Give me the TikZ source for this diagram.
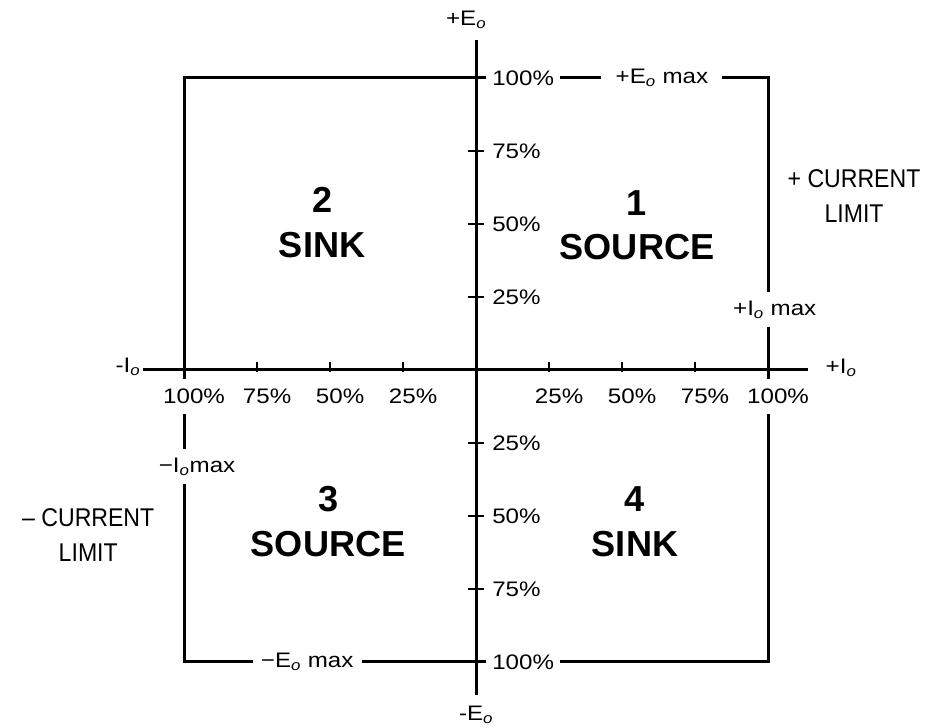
\documentclass[tikz,border=0pt]{standalone}
\usepackage{fontspec}
\setmainfont{Liberation Sans}
\newfontfamily\pctfont{Liberation Sans}[FakeStretch=1.15]
\newfontfamily\narrowfont{Liberation Sans}[FakeStretch=0.9]
\usepackage{tikz}
\newcommand{\osub}{\textsubscript{\itshape o}}
\newcommand{\mns}{\char"2212\relax}

\begin{document}
\begin{tikzpicture}[
    axis/.style={line width=2.6pt},
    frame/.style={line width=2.6pt},
    tick/.style={line width=1.8pt},
    pct/.style={font=\pctfont\fontsize{18}{21}\selectfont, inner sep=0pt},
    gap/.style={pct, fill=white},
    quad/.style={font=\bfseries\fontsize{31}{38.5}\selectfont, align=center},
    limit/.style={font=\narrowfont\fontsize{22}{30}\selectfont, align=center}
]
\useasboundingbox (-14.35,-10.79) rectangle (13.74,11.15);

% --- frame and axes ---
\draw[frame] (-8.8,-8.8) rectangle (8.8,8.8);
\coordinate (etop) at (0,9.95);
\coordinate (ebot) at (0,-9.8);
\coordinate (ileft) at (-10.04,0);
\coordinate (iright) at (10.0,0);
\draw[axis] (etop) -- (ebot);
\draw[axis] (ileft) -- (iright);

% --- ticks ---
\foreach \k in {1,2,3} {
  \draw[tick] (\k*2.2,-0.05) -- (\k*2.2,0.25);
  \draw[tick] (-\k*2.2,-0.05) -- (-\k*2.2,0.25);
  \draw[tick] (-0.25,\k*2.2) -- (0.25,\k*2.2);
  \draw[tick] (-0.25,-\k*2.2) -- (0.25,-\k*2.2);
}

% --- percent labels ---
\foreach \k/\p in {1/25,2/50,3/75,4/100} {
  \node[gap, inner ysep=0.3cm] (hr\k) at (\k*2.2+0.3,-0.8) {\p\%};
  \node[gap, inner ysep=0.3cm] (hl\k) at (-\k*2.2+0.3,-0.8) {\p\%};
  \node[gap, anchor=west, inner xsep=0.18cm] (vt\k) at (0.3,\k*2.2) {\p\%};
  \node[gap, anchor=west, inner xsep=0.18cm] (vb\k) at (0.3,-\k*2.2) {\p\%};
}

% --- max labels on the frame ---
\node[gap, inner xsep=0.43cm] (emaxp) at (5.6,8.8) {+E\osub\ max};
\node[gap, inner ysep=0.26cm] (imaxp) at (9.0,1.81) {+I\osub\ max};
\node[gap, inner ysep=0.26cm] (imaxm) at (-8.41,-2.92) {\mns I\osub max};
\node[gap, inner xsep=0.25cm] (emaxm) at (-5.09,-8.8) {\mns E\osub\ max};

% --- axis labels ---
\node[pct] (eplusl) at (-0.3,10.55) {+E\osub};
\node[pct] (eminusl) at (0,-10.4) {-E\osub};
\node[pct] (iplusl) at (11.0,0.06) {+I\osub};
\node[pct] (iminusl) at (-10.49,0.1) {-I\osub};

% --- quadrants ---
\node[quad] (q1) at (4.85,4.36) {1\\SOURCE};
\node[quad] (q2) at (-4.64,4.43) {2\\SINK};
\node[quad] (q3) at (-4.46,-4.58) {3\\SOURCE};
\node[quad] (q4) at (4.79,-4.58) {4\\SINK};

% --- current limits ---
\node[limit] (limp) at (11.39,5.24) {+ CURRENT\\LIMIT};
\node[limit] (limm) at (-11.69,-4.97) {\textendash{} CURRENT\\LIMIT};

\end{tikzpicture}
\end{document}
